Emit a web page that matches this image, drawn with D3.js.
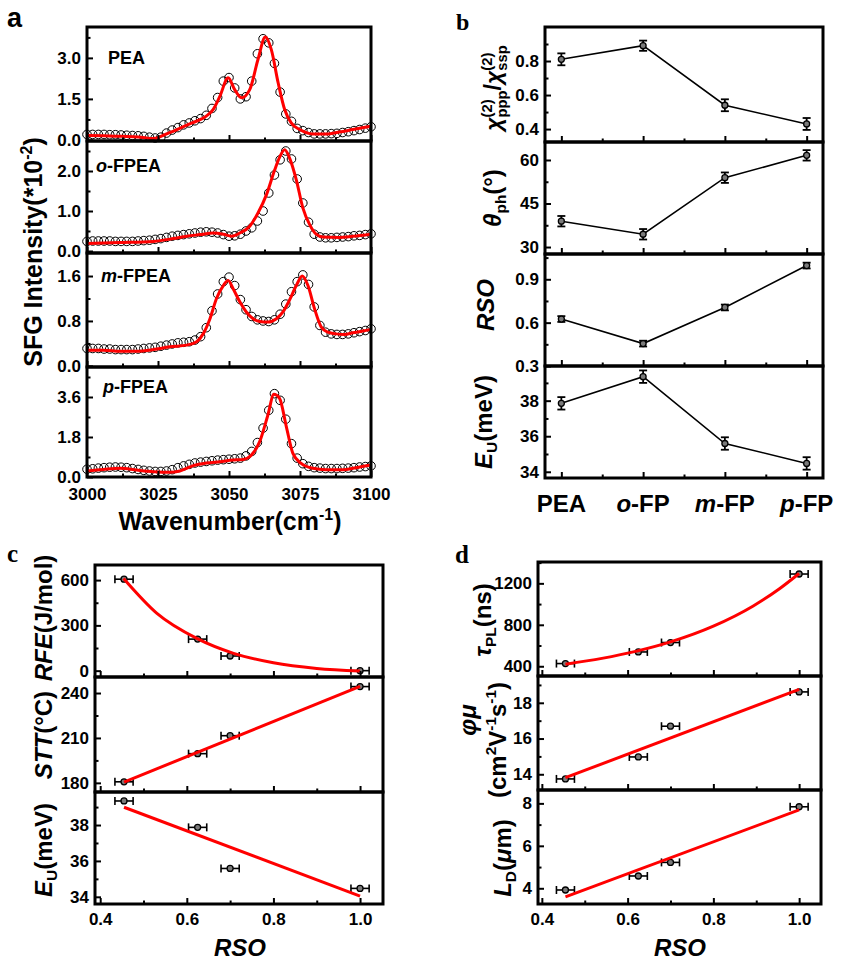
<!DOCTYPE html>
<html>
<head>
<meta charset="utf-8">
<script src="https://cdn.jsdelivr.net/npm/d3@7"></script>
<style>
body { margin: 0; background: #fff; }
text { font-family: "Liberation Sans", Arial, sans-serif; font-weight: bold; fill: #000; }
</style>
</head>
<body>
<div id="chart"></div>
<script>
var width = 846, height = 976;
var svg = d3.select("#chart").append("svg")
	.attr("width", width)
	.attr("height", height);

// ---------- panel a : SFG spectra ----------
var wavenumber = [3000,3002,3004,3006,3008,3010,3012,3014,3016,3018,3020,3022,3024,
	3026,3028,3030,3032,3034,3036,3038,3040,3042,3044,3046,3048,3050,
	3052,3054,3056,3058,3060,3062,3064,3066,3068,3070,3072,3074,3076,
	3078,3080,3082,3084,3086,3088,3090,3092,3094,3096,3098,3100];

var peaData = [0.20,0.20,0.20,0.20,0.19,0.19,0.18,0.17,0.16,0.15,0.13,0.10,0.07,
	0.10,0.25,0.36,0.45,0.55,0.62,0.70,0.78,0.90,1.15,1.55,2.15,2.28,
	1.90,1.50,1.58,2.15,3.15,3.70,3.55,2.80,1.75,0.95,0.68,0.42,0.34,
	0.27,0.22,0.22,0.22,0.23,0.24,0.27,0.30,0.34,0.38,0.43,0.48];
var oData = [0.24,0.25,0.25,0.25,0.25,0.24,0.24,0.24,0.24,0.25,0.26,0.27,0.29,
	0.31,0.34,0.37,0.39,0.41,0.43,0.45,0.47,0.48,0.47,0.45,0.41,0.37,
	0.38,0.42,0.50,0.58,0.75,1.00,1.45,1.90,2.28,2.50,2.30,1.80,1.20,
	0.72,0.42,0.35,0.33,0.33,0.34,0.35,0.36,0.38,0.39,0.41,0.43];
var mData = [0.31,0.31,0.31,0.30,0.30,0.29,0.29,0.29,0.29,0.30,0.31,0.32,0.33,
	0.35,0.37,0.39,0.41,0.42,0.43,0.46,0.52,0.68,0.98,1.28,1.50,1.58,
	1.43,1.18,1.00,0.88,0.82,0.80,0.79,0.82,0.92,1.10,1.32,1.50,1.62,
	1.45,1.05,0.72,0.60,0.57,0.56,0.56,0.57,0.59,0.61,0.63,0.66];
var pData = [0.35,0.37,0.40,0.42,0.44,0.45,0.44,0.42,0.38,0.34,0.30,0.27,0.25,
	0.25,0.27,0.33,0.42,0.50,0.57,0.63,0.67,0.70,0.73,0.76,0.78,0.80,
	0.82,0.85,0.95,1.15,1.55,2.20,3.00,3.75,3.45,2.60,1.50,0.85,0.60,
	0.48,0.42,0.40,0.38,0.38,0.38,0.39,0.40,0.42,0.45,0.47,0.50];

// fitted curves (red)
var peaFitX = [3000,3006,3012,3018,3023.5,3028,3033,3037,3042,3044.4,3046.8,3049.7,3052,3054.4,3057.3,3060.2,3062.8,3064.9,3067.3,3069.6,3071.9,3074.9,3079.5,3084.2,3088.9,3093.6,3100];
var peaFitY = [0.16,0.15,0.13,0.11,0.05,0.22,0.44,0.62,0.87,1.11,1.6,2.27,1.84,1.54,1.84,2.94,3.76,3.3,2.09,1.11,0.62,0.38,0.22,0.22,0.29,0.38,0.5];
var oFitX = [3000,3011.7,3023.4,3030.4,3035.1,3039.8,3044.4,3048,3050.9,3053.8,3057.3,3060.2,3063.2,3066.1,3067.8,3069.6,3071.3,3073.7,3076,3078.4,3080.7,3083,3088.9,3093.6,3100];
var oFitY = [0.19,0.21,0.24,0.31,0.37,0.41,0.45,0.42,0.37,0.45,0.62,0.95,1.41,2.03,2.34,2.53,2.33,1.78,1.08,0.66,0.42,0.35,0.34,0.37,0.42];
var mFitX = [3000,3005.8,3011.7,3017.5,3023.4,3029.2,3035.1,3038.6,3040.9,3043.3,3045.6,3048,3049.7,3051.5,3053.8,3056.1,3058.5,3060.8,3063.7,3066.7,3069,3071.3,3073.7,3075.8,3077.8,3080.1,3082.5,3084.8,3087.7,3090.6,3093.6,3097.1,3100];
var mFitY = [0.28,0.28,0.26,0.26,0.29,0.34,0.37,0.43,0.57,0.84,1.2,1.43,1.52,1.37,1.14,0.96,0.84,0.79,0.78,0.84,0.96,1.17,1.43,1.6,1.43,1.02,0.69,0.6,0.57,0.56,0.59,0.62,0.65];
var pFitX = [3000,3005.8,3011.7,3017.5,3023.4,3029.2,3032.7,3037.4,3042.1,3046.8,3051.5,3055,3057.9,3060.8,3063.7,3065.8,3067.8,3070.2,3072.5,3075.4,3079.5,3084.2,3090.1,3094.7,3100];
var pFitY = [0.27,0.34,0.39,0.31,0.24,0.21,0.27,0.51,0.63,0.69,0.76,0.79,0.99,1.59,2.79,3.72,3.54,2.26,1.06,0.61,0.39,0.33,0.33,0.42,0.54];

// ---------- panel b ----------
var compounds = ["PEA", "o-FP", "m-FP", "p-FP"];
var chiRatio = [0.81, 0.89, 0.54, 0.43];
var chiErr = [0.035, 0.03, 0.035, 0.035];
var thetaPh = [38.9, 34.4, 53.9, 61.6];
var thetaErr = [1.8, 1.8, 1.8, 1.8];
var rsoVal = [0.625, 0.455, 0.705, 0.995];
var rsoErr = [0.02, 0.02, 0.02, 0.02];
var euVal = [37.85, 39.35, 35.59, 34.47];
var euErr = [0.35, 0.35, 0.35, 0.35];

// ---------- panels c, d (vs RSO) ----------
var rsoX = [0.455, 0.625, 0.70, 1.0];
var rsoXErr = [0.021, 0.021, 0.021, 0.021];
var rfe = [606, 209, 97, 0];
var stt = [180.7, 199.5, 211.5, 244.3];
var euC = [39.34, 37.87, 35.58, 34.47];
var tauPL = [426, 538, 629, 1290];
var phiMu = [13.74, 14.97, 16.69, 18.61];
var ldVal = [3.92, 4.58, 5.22, 7.84];

var rfeFitX = [0.454, 0.531, 0.623, 0.708, 0.80, 0.90, 1.0];
var rfeFitY = [611, 380, 214, 115, 52, 15, -2];
var sttFitX = [0.455, 1.0], sttFitY = [180.5, 244.5];
var euFitX = [0.455, 1.0], euFitY = [38.99, 34.04];
var tauFitX = [0.455, 0.54, 0.621, 0.70, 0.80, 0.893, 0.955, 1.0];
var tauFitY = [420, 476, 546, 635, 787, 982, 1150, 1295];
var phiFitX = [0.455, 1.0], phiFitY = [13.81, 18.75];
var ldFitX = [0.455, 1.0], ldFitY = [3.6, 7.69];

var tickFont = 17;

// left axis with inward major + minor ticks
function yAxis(g, y, x0, major, minor, fmt) {
	var a = g.append("g").attr("transform", "translate(" + x0 + ",0)")
		.call(d3.axisLeft(y).tickValues(major).tickSize(-6).tickPadding(6).tickFormat(fmt));
	a.select(".domain").remove();
	a.selectAll("line").attr("stroke-width", 2);
	a.selectAll("text").style("font-size", tickFont + "px");
	var m = g.append("g").attr("transform", "translate(" + x0 + ",0)")
		.call(d3.axisLeft(y).tickValues(minor).tickSize(-3.5).tickFormat(""));
	m.select(".domain").remove();
	m.selectAll("line").attr("stroke-width", 2);
}

function xTicks(g, x, yb, major, minor, fmt, showLabels, pad) {
	var a = g.append("g").attr("transform", "translate(0," + yb + ")")
		.call(d3.axisBottom(x).tickValues(major).tickSize(-6).tickPadding(pad || 9).tickFormat(showLabels ? fmt : ""));
	a.select(".domain").remove();
	a.selectAll("line").attr("stroke-width", 2);
	a.selectAll("text").style("font-size", tickFont + "px");
	var m = g.append("g").attr("transform", "translate(0," + yb + ")")
		.call(d3.axisBottom(x).tickValues(minor).tickSize(-3.5).tickFormat(""));
	m.select(".domain").remove();
	m.selectAll("line").attr("stroke-width", 2);
}

function frame(x0, x1, y0, y1) {
	svg.append("rect")
		.attr("x", x0).attr("y", y0)
		.attr("width", x1 - x0).attr("height", y1 - y0)
		.attr("fill", "none").attr("stroke", "#000").attr("stroke-width", 3);
}

// text made of pieces (italic, sub, sup, stacked sub under sup)
function richLabel(x, y, rot, size, segs) {
	var g = svg.append("g").attr("transform", "translate(" + x + "," + y + ") rotate(" + rot + ")");
	var inner = g.append("g");
	var cx = 0, lastX = 0, lastW = 0;
	segs.forEach(function(s) {
		var small = s.sup || s.sub;
		var fs = small ? size * 0.64 : size;
		var dy = s.sup ? -size * 0.42 : (s.sub ? size * 0.24 : 0);
		var t = inner.append("text")
			.attr("y", dy + size * 0.36)
			.style("font-size", fs + "px")
			.style("font-style", s.it ? "italic" : "normal")
			.text(s.t);
		var w = t.node().getComputedTextLength();
		if (s.stack) {
			t.attr("x", lastX);
			lastW = Math.max(lastW, w);
			cx = lastX + lastW;
		} else {
			t.attr("x", cx);
			lastX = cx; lastW = w;
			cx += w;
		}
	});
	inner.attr("transform", "translate(" + (-cx / 2) + ",0)");
}

function marker(g, x, y, xs, ys) {
	g.selectAll(null).data(xs).join("circle")
		.attr("cx", function(d) { return x(d); })
		.attr("cy", function(d, i) { return y(ys[i]); })
		.attr("r", 3)
		.attr("fill", "#7a7a7a")
		.attr("stroke", "#000")
		.attr("stroke-width", 1.3);
}

function redLine(g, x, y, xs, ys, curve) {
	g.append("path")
		.datum(xs.map(function(d, i) { return [d, ys[i]]; }))
		.attr("fill", "none")
		.attr("stroke", "#ff0000")
		.attr("stroke-width", 3)
		.attr("d", d3.line().x(function(d) { return x(d[0]); }).y(function(d) { return y(d[1]); }).curve(curve || d3.curveLinear));
}

// ================= panel a =================
var aBounds = [27, 141, 253, 367, 477];
var xA = d3.scaleLinear().domain([3000, 3100]).range([87, 371]);
var aPanels = [
	{ data: peaData, fx: peaFitX, fy: peaFitY, dom: [-0.04, 4.13], major: [0, 1.5, 3.0], minor: [0.75, 2.25, 3.75], name: [{ t: "PEA" }], lx: 108, ly: 64 },
	{ data: oData, fx: oFitX, fy: oFitY, dom: [-0.05, 2.75], major: [0, 1, 2], minor: [0.5, 1.5, 2.5], name: [{ t: "o", it: 1 }, { t: "-FPEA" }], lx: 96, ly: 172 },
	{ data: mData, fx: mFitX, fy: mFitY, dom: [-0.02, 2.01], major: [0, 0.8, 1.6], minor: [0.4, 1.2], name: [{ t: "m", it: 1 }, { t: "-FPEA" }], lx: 101, ly: 282 },
	{ data: pData, fx: pFitX, fy: pFitY, dom: [0, 4.95], major: [0, 1.8, 3.6], minor: [0.9, 2.7, 4.5], name: [{ t: "p", it: 1 }, { t: "-FPEA" }], lx: 103, ly: 393 }
];
aPanels.forEach(function(p, k) {
	var g = svg.append("g");
	var y = d3.scaleLinear().domain(p.dom).range([aBounds[k + 1], aBounds[k]]);
	g.selectAll(null).data(wavenumber).join("circle")
		.attr("cx", function(d) { return xA(d); })
		.attr("cy", function(d, i) { return y(p.data[i]); })
		.attr("r", 4.3)
		.attr("fill", "none")
		.attr("stroke", "#000")
		.attr("stroke-width", 1);
	redLine(g, xA, y, p.fx, p.fy, d3.curveMonotoneX);
	yAxis(g, y, 87, p.major, p.minor, d3.format(".1f"));
	xTicks(g, xA, aBounds[k + 1], [3000, 3025, 3050, 3075, 3100], [3012.5, 3037.5, 3062.5, 3087.5], d3.format("d"), k == 3, 11);
	var t = g.append("text").attr("x", p.lx).attr("y", p.ly).style("font-size", "18px");
	p.name.forEach(function(s) {
		t.append("tspan").style("font-style", s.it ? "italic" : "normal").text(s.t);
	});
	frame(87, 371, aBounds[k], aBounds[k + 1]);
});
richLabel(33, 252, -90, 25, [{ t: "SFG Intensity(*10" }, { t: "-2", sup: 1 }, { t: ")" }]);
richLabel(230, 521, 0, 25, [{ t: "Wavenumber(cm" }, { t: "-1", sup: 1 }, { t: ")" }]);
svg.append("text").attr("x", 7).attr("y", 27).style("font-size", "27px").text("a");

// ================= panel b =================
var bBounds = [27, 142, 254, 366, 478];
var xB = d3.scaleLinear().domain([-0.2, 3.2]).range([545, 823]);
var catIdx = compounds.map(function(d, i) { return i; });
var bPanels = [
	{ v: chiRatio, e: chiErr, dom: [0.324, 1.0], major: [0.4, 0.6, 0.8], minor: [0.5, 0.7, 0.9], fmt: d3.format(".1f") },
	{ v: thetaPh, e: thetaErr, dom: [27.6, 66.2], major: [30, 45, 60], minor: [37.5, 52.5], fmt: d3.format("d") },
	{ v: rsoVal, e: rsoErr, dom: [0.3, 1.075], major: [0.3, 0.6, 0.9], minor: [0.45, 0.75, 1.05], fmt: d3.format(".1f") },
	{ v: euVal, e: euErr, dom: [33.65, 39.95], major: [34, 36, 38], minor: [35, 37, 39], fmt: d3.format("d") }
];
bPanels.forEach(function(p, k) {
	var g = svg.append("g");
	var y = d3.scaleLinear().domain(p.dom).range([bBounds[k + 1], bBounds[k]]);
	g.append("path")
		.datum(catIdx)
		.attr("fill", "none").attr("stroke", "#000").attr("stroke-width", 1.6)
		.attr("d", d3.line().x(function(i) { return xB(i); }).y(function(i) { return y(p.v[i]); }));
	catIdx.forEach(function(i) {
		var cx = xB(i), lo = y(p.v[i] - p.e[i]), hi = y(p.v[i] + p.e[i]);
		g.append("line").attr("x1", cx).attr("x2", cx).attr("y1", lo).attr("y2", hi).attr("stroke", "#000").attr("stroke-width", 1.8);
		g.append("line").attr("x1", cx - 4).attr("x2", cx + 4).attr("y1", lo).attr("y2", lo).attr("stroke", "#000").attr("stroke-width", 1.8);
		g.append("line").attr("x1", cx - 4).attr("x2", cx + 4).attr("y1", hi).attr("y2", hi).attr("stroke", "#000").attr("stroke-width", 1.8);
	});
	marker(g, xB, y, catIdx, p.v);
	yAxis(g, y, 545, p.major, p.minor, p.fmt);
	xTicks(g, xB, bBounds[k + 1], catIdx, [0.5, 1.5, 2.5], null, false);
	frame(545, 823, bBounds[k], bBounds[k + 1]);
});
compounds.forEach(function(c, i) {
	var t = svg.append("text").attr("x", xB(i)).attr("y", 512).attr("text-anchor", "middle").style("font-size", "24px");
	var parts = c.split("-");
	if (parts.length > 1) {
		t.append("tspan").style("font-style", "italic").text(parts[0]);
		t.append("tspan").text("-" + parts[1]);
	} else {
		t.text(c);
	}
});
richLabel(493, 88, -90, 23, [{ t: "\u03c7", it: 1 }, { t: "(2)", sup: 1 }, { t: "ppp", sub: 1, stack: 1 }, { t: " / " },
	{ t: "\u03c7", it: 1 }, { t: "(2)", sup: 1 }, { t: "ssp", sub: 1, stack: 1 }]);
richLabel(492, 198, -90, 24, [{ t: "\u03b8", it: 1 }, { t: "ph", sub: 1 }, { t: "(\u00b0)" }]);
richLabel(485, 305, -90, 24, [{ t: "RSO", it: 1 }]);
richLabel(483, 422, -90, 24, [{ t: "E", it: 1 }, { t: "U", sub: 1 }, { t: "(meV)" }]);
svg.append("text").attr("x", 456).attr("y", 30).style("font-family", "'Liberation Serif', serif").style("font-size", "24px").text("b");

// ================= panels c and d =================
function rsoStack(bounds, xr, panels) {
	var x = d3.scaleLinear().domain(xr.dom).range(xr.range);
	panels.forEach(function(p, k) {
		var g = svg.append("g");
		var y = d3.scaleLinear().domain(p.dom).range([bounds[k + 1], bounds[k]]);
		rsoX.forEach(function(v, i) {
			var cy = y(p.v[i]), l = x(v - rsoXErr[i]), r = x(v + rsoXErr[i]);
			g.append("line").attr("x1", l).attr("x2", r).attr("y1", cy).attr("y2", cy).attr("stroke", "#000").attr("stroke-width", 1.6);
			g.append("line").attr("x1", l).attr("x2", l).attr("y1", cy - 4).attr("y2", cy + 4).attr("stroke", "#000").attr("stroke-width", 1.6);
			g.append("line").attr("x1", r).attr("x2", r).attr("y1", cy - 4).attr("y2", cy + 4).attr("stroke", "#000").attr("stroke-width", 1.6);
		});
		marker(g, x, y, rsoX, p.v);
		redLine(g, x, y, p.fx, p.fy, d3.curveMonotoneX);
		yAxis(g, y, xr.range[0], p.major, p.minor, d3.format("d"));
		xTicks(g, x, bounds[k + 1], [0.4, 0.6, 0.8, 1.0], [0.5, 0.7, 0.9], d3.format(".1f"), k == panels.length - 1);
		frame(xr.range[0], xr.range[1], bounds[k], bounds[k + 1]);
	});
}

rsoStack([565, 677, 792, 904], { dom: [0.388, 1.053], range: [95, 383] }, [
	{ v: rfe, fx: rfeFitX, fy: rfeFitY, dom: [-42, 700], major: [0, 300, 600], minor: [150, 450] },
	{ v: stt, fx: sttFitX, fy: sttFitY, dom: [173.9, 250.7], major: [180, 210, 240], minor: [195, 225] },
	{ v: euC, fx: euFitX, fy: euFitY, dom: [33.6, 39.84], major: [34, 36, 38], minor: [35, 37, 39] }
]);
rsoStack([562, 676, 790, 904], { dom: [0.391, 1.051], range: [538, 821] }, [
	{ v: tauPL, fx: tauFitX, fy: tauFitY, dom: [306, 1406], major: [400, 800, 1200], minor: [600, 1000, 1400] },
	{ v: phiMu, fx: phiFitX, fy: phiFitY, dom: [13.12, 19.5], major: [14, 16, 18], minor: [15, 17, 19] },
	{ v: ldVal, fx: ldFitX, fy: ldFitY, dom: [3.26, 8.63], major: [4, 6, 8], minor: [5, 7] }
]);

richLabel(43, 618, -90, 24, [{ t: "RFE", it: 1 }, { t: "(J/mol)" }]);
richLabel(43, 735, -90, 24, [{ t: "STT", it: 1 }, { t: "(\u00b0C)" }]);
richLabel(43, 850, -90, 24, [{ t: "E", it: 1 }, { t: "U", sub: 1 }, { t: "(meV)" }]);
richLabel(240, 947, 0, 24, [{ t: "RSO", it: 1 }]);
svg.append("text").attr("x", 7).attr("y", 562).style("font-family", "'Liberation Serif', serif").style("font-size", "25px").text("c");

richLabel(482, 620, -90, 24, [{ t: "\u03c4", it: 1 }, { t: "PL", sub: 1 }, { t: "(ns)" }]);
richLabel(467, 720, -90, 24, [{ t: "\u03c6\u03bc", it: 1 }]);
richLabel(497, 740, -90, 24, [{ t: "(cm" }, { t: "2", sup: 1 }, { t: "V" }, { t: "-1", sup: 1 }, { t: "s" }, { t: "-1", sup: 1 }, { t: ")" }]);
richLabel(502, 858, -90, 24, [{ t: "L", it: 1 }, { t: "D", sub: 1 }, { t: "(" }, { t: "\u03bc", it: 1 }, { t: "m)" }]);
richLabel(680, 947, 0, 24, [{ t: "RSO", it: 1 }]);
svg.append("text").attr("x", 455).attr("y", 563).style("font-family", "'Liberation Serif', serif").style("font-size", "25px").text("d");
</script>
</body>
</html>
